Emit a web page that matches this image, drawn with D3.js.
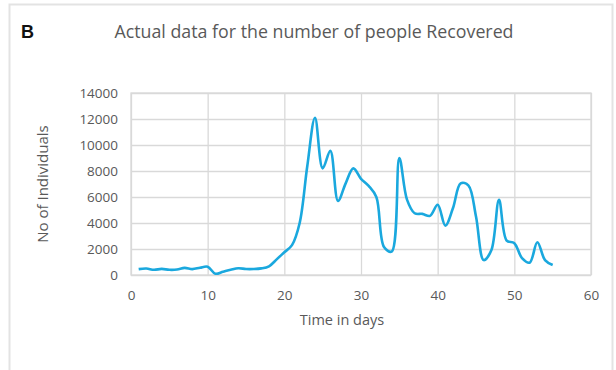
<!DOCTYPE html>
<html>
<head>
<meta charset="utf-8">
<script src="https://cdn.jsdelivr.net/npm/d3@7"></script>
<style>
  body { margin: 0; background: #fff; }
  text { font-family: "Open Sans", sans-serif; }
</style>
</head>
<body>
<div id="chart"></div>
<script>
// Recovered per day (days 1..55)
const days = d3.range(1, 56);
const recovered = [
  450, 500, 400, 470, 400, 420, 550, 450, 560, 640,
  100, 250, 400, 520, 460, 460, 510, 670, 1200, 1750,
  2300, 4000, 8400, 12100, 8200, 9550, 5700, 7050, 8200, 7400,
  6850, 6000, 2150, 1800, 9000, 5800, 4750, 4700, 4550, 5400,
  3800, 5150, 7050, 6900, 4500, 1150, 1900, 5780, 2650, 2450,
  1300, 950, 2520, 1150, 770
];
const xTicks = [0, 10, 20, 30, 40, 50, 60];
const yTicks = [0, 2000, 4000, 6000, 8000, 10000, 12000, 14000];

const W = 616, H = 370;
const margin = { top: 93, right: 25, bottom: 95, left: 131 };
const width = W - margin.left - margin.right;
const height = H - margin.top - margin.bottom;

const svg = d3.select("#chart").append("svg")
    .attr("width", W)
    .attr("height", H);

// outer frame
svg.append("rect")
    .attr("x", 9.5).attr("y", 4.5)
    .attr("width", 603).attr("height", 380)
    .attr("fill", "none")
    .attr("stroke", "#e3e3e3")
    .attr("stroke-width", 2);

svg.append("text")
    .attr("x", 21).attr("y", 38)
    .style("font-family", "Liberation Sans, Arial, sans-serif")
    .style("font-weight", "bold")
    .style("font-size", "18px")
    .attr("fill", "#111")
    .text("B");

svg.append("text")
    .attr("x", 314).attr("y", 38)
    .attr("text-anchor", "middle")
    .style("font-size", "17.8px")
    .attr("fill", "#595959")
    .text("Actual data for the number of people Recovered");

const g = svg.append("g")
    .attr("transform", `translate(${margin.left},${margin.top})`);

const x = d3.scaleLinear().domain([0, 60]).range([0, width]);
const y = d3.scaleLinear().domain([0, 14000]).range([height, 0]);

// gridlines
g.append("g")
    .call(d3.axisLeft(y).tickValues(yTicks).tickSize(-width).tickFormat(""))
    .call(a => a.select(".domain").remove())
    .selectAll("line").attr("stroke", "#d9d9d9").attr("stroke-width", 1.3);
g.append("g")
    .call(d3.axisBottom(x).tickValues(xTicks).tickSize(height).tickFormat(""))
    .call(a => a.select(".domain").remove())
    .selectAll("line").attr("stroke", "#d9d9d9").attr("stroke-width", 1.3);
g.append("rect")
    .attr("width", width).attr("height", height)
    .attr("fill", "none").attr("stroke", "#d9d9d9").attr("stroke-width", 1.3);

// tick labels
const yAxis = g.append("g")
    .call(d3.axisLeft(y).tickValues(yTicks).tickSize(0).tickPadding(13).tickFormat(d3.format("d")));
yAxis.select(".domain").remove();
yAxis.selectAll("text").style("font-size", "13.5px").attr("fill", "#595959")
    .style("font-family", "Open Sans, sans-serif");

const xAxis = g.append("g")
    .attr("transform", `translate(0,${height})`)
    .call(d3.axisBottom(x).tickValues(xTicks).tickSize(0).tickPadding(15));
xAxis.select(".domain").remove();
xAxis.selectAll("text").style("font-size", "13.5px").attr("fill", "#595959")
    .style("font-family", "Open Sans, sans-serif");

// axis titles
svg.append("text")
    .attr("x", 342)
    .attr("y", 325)
    .attr("text-anchor", "middle")
    .style("font-size", "14.5px")
    .attr("fill", "#595959")
    .text("Time in days");

svg.append("text")
    .attr("transform", "translate(48,184) rotate(-90)")
    .attr("text-anchor", "middle")
    .style("font-size", "15px")
    .attr("fill", "#595959")
    .text("No of Individuals");

// line
const line = d3.line()
    .x((d, i) => x(days[i]))
    .y(d => y(d))
    .curve(d3.curveCatmullRom.alpha(0.5));

g.append("path")
    .datum(recovered)
    .attr("fill", "none")
    .attr("stroke", "#1aa8de")
    .attr("stroke-width", 2.6)
    .attr("stroke-linejoin", "round")
    .attr("d", line);
</script>
</body>
</html>
